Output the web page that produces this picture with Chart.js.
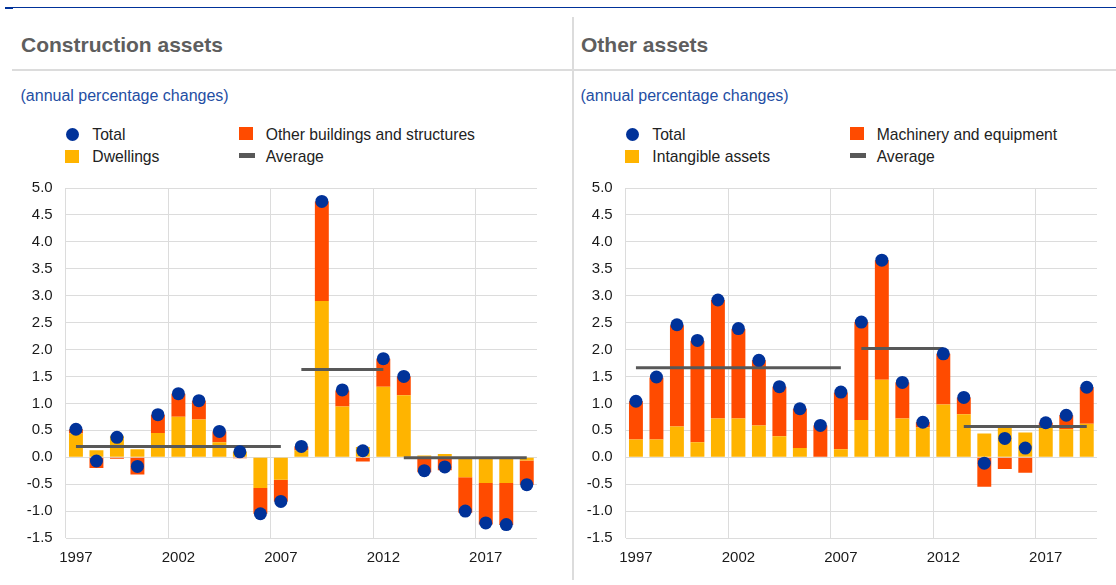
<!DOCTYPE html>
<html>
<head>
<meta charset="utf-8">
<script src="https://cdn.jsdelivr.net/npm/chart.js@4.4.1/dist/chart.umd.min.js"></script>
<style>
body{margin:0;width:1116px;height:585px;background:#fff;position:relative;overflow:hidden;font-family:"Liberation Sans",Arial,sans-serif}
.abs{position:absolute}
.topline{left:5px;right:0;top:7px;height:1px;background:#003299}
.topblock{left:5px;width:8px;top:7px;height:2px;background:#003299}
.hsep{left:12px;right:0;top:69px;height:2px;background:#dcdcdc}
.vsep{left:572px;width:2px;top:17px;bottom:5px;background:#dcdcdc}
.title{font-size:21px;font-weight:bold;color:#5e5e5e;line-height:21px;top:33.5px;white-space:nowrap}
.sub{font-size:16px;color:#1f4ea3;line-height:16px;top:88px;white-space:nowrap}
.leg{font-size:15.7px;line-height:15.5px;color:#222;white-space:nowrap}
.dot{width:13px;height:13px;border-radius:50%;background:#003299}
.sq{width:14px;height:13px}
.avgm{width:16px;height:5px;background:#585858}
canvas{position:absolute}
</style>
</head>
<body>
<div class="abs topline"></div>
<div class="abs topblock"></div>
<div class="abs hsep"></div>
<div class="abs vsep"></div>

<div class="abs title" style="left:21px">Construction assets</div>
<div class="abs sub" style="left:20.5px">(annual percentage changes)</div>
<div class="abs dot" style="left:65.8px;top:128px"></div>
<div class="abs leg" style="left:92.3px;top:127px">Total</div>
<div class="abs sq" style="left:65px;top:150px;background:#ffb400"></div>
<div class="abs leg" style="left:92.3px;top:149.2px">Dwellings</div>
<div class="abs sq" style="left:239px;top:127px;background:#ff4b00"></div>
<div class="abs leg" style="left:265.7px;top:127px">Other buildings and structures</div>
<div class="abs avgm" style="left:239px;top:153px"></div>
<div class="abs leg" style="left:265.7px;top:149.2px">Average</div>

<div class="abs title" style="left:581px">Other assets</div>
<div class="abs sub" style="left:580.5px">(annual percentage changes)</div>
<div class="abs dot" style="left:625.8px;top:128px"></div>
<div class="abs leg" style="left:652.3px;top:127px">Total</div>
<div class="abs sq" style="left:625px;top:150px;background:#ffb400"></div>
<div class="abs leg" style="left:652.3px;top:149.2px">Intangible assets</div>
<div class="abs sq" style="left:850px;top:127px;background:#ff4b00"></div>
<div class="abs leg" style="left:876.7px;top:127px">Machinery and equipment</div>
<div class="abs avgm" style="left:850px;top:153px"></div>
<div class="abs leg" style="left:876.7px;top:149.2px">Average</div>

<canvas id="construction-chart" width="535" height="393" style="left:12px;top:175px;width:535px;height:393px"></canvas>
<canvas id="other-chart" width="535" height="393" style="left:572px;top:175px;width:535px;height:393px"></canvas>

<script>
// годы
const years = ['1997','1998','1999','2000','2001','2002','2003','2004','2005','2006','2007','2008','2009','2010','2011','2012','2013','2014','2015','2016','2017','2018','2019'];
const yTicks = [-1.5,-1.0,-0.5,0.0,0.5,1.0,1.5,2.0,2.5,3.0,3.5,4.0,4.5,5.0];
const avgPeriods = [['1997','2007'],['2008','2012'],['2013','2019']];

// Construction assets
const dwellings = [0.44,0.13,0.40,0.15,0.45,0.75,0.70,0.28,0.10,-0.57,-0.42,0.13,2.90,0.94,0.19,1.31,1.15,0.03,0.06,-0.37,-0.48,-0.48,-0.06];
const otherBuildings = [0.08,-0.20,-0.03,-0.32,0.34,0.43,0.35,0.20,-0.02,-0.48,-0.40,0.07,1.85,0.30,-0.08,0.52,0.35,-0.28,-0.24,-0.66,-0.77,-0.78,-0.45];
const constructionTotal = [0.52,-0.07,0.37,-0.17,0.79,1.18,1.05,0.48,0.10,-1.05,-0.82,0.20,4.75,1.25,0.12,1.83,1.50,-0.25,-0.18,-1.00,-1.22,-1.25,-0.51];
const constructionAvg = [0.20,1.63,-0.01];

// Other assets
const intangible = [0.33,0.33,0.57,0.28,0.72,0.72,0.59,0.39,0.17,0.01,0.15,0.69,1.44,0.72,0.55,0.98,0.80,0.44,0.57,0.46,0.60,0.52,0.62];
const machinery = [0.71,1.15,1.88,1.88,2.20,1.66,1.21,0.92,0.73,0.58,1.05,1.82,2.22,0.67,0.10,0.94,0.31,-0.55,-0.22,-0.29,0.04,0.26,0.68];
const otherTotal = [1.04,1.49,2.46,2.17,2.92,2.39,1.80,1.31,0.90,0.59,1.21,2.51,3.66,1.39,0.65,1.92,1.11,-0.11,0.35,0.17,0.64,0.78,1.30];
const otherAvg = [1.66,2.02,0.57];

const BLUE = '#003299', ORANGE = '#ff4b00', YELLOW = '#ffb400', GREY = '#585858', GRID = '#dcdcdc';

function avgSeries(k, value){
  const from = years.indexOf(avgPeriods[k][0]);
  const to = years.indexOf(avgPeriods[k][1]);
  return years.map((y,i) => (i>=from && i<=to) ? value : null);
}

function makeChart(id, totalData, lowData, lowLabel, highData, highLabel, avgValues){
  const datasets = [{
    type:'line', label:'Total', data:totalData, stack:'total',
    showLine:false, pointRadius:6.5, pointHoverRadius:6.5,
    pointBackgroundColor:BLUE, pointBorderWidth:0, borderColor:BLUE
  }];
  avgValues.forEach((v,k) => {
    datasets.push({
      type:'line', label:'Average', data:avgSeries(k, v), stack:'avg'+k,
      borderColor:GREY, borderWidth:3, pointRadius:0, spanGaps:false, borderCapStyle:'butt'
    });
  });
  datasets.push({type:'bar', label:lowLabel, data:lowData, backgroundColor:YELLOW, stack:'bars', barPercentage:0.68, categoryPercentage:1});
  datasets.push({type:'bar', label:highLabel, data:highData, backgroundColor:ORANGE, stack:'bars', barPercentage:0.68, categoryPercentage:1});

  return new Chart(document.getElementById(id).getContext('2d'), {
    type:'bar',
    data:{labels:years, datasets:datasets},
    options:{
      responsive:false,
      animation:false,
      layout:{padding:{top:13,right:10,left:0,bottom:0}},
      scales:{
        x:{
          stacked:true,
          grid:{
            offset:true, drawTicks:false, lineWidth:1,
            color:(ctx) => (ctx.index % 5 === 0 ? GRID : 'rgba(0,0,0,0)')
          },
          border:{display:false},
          ticks:{
            autoSkip:false, maxRotation:0, padding:11,
            color:'#1a1a1a', font:{family:'"Liberation Sans", Arial', size:15},
            callback:function(value, index){ return index % 5 === 0 ? this.getLabelForValue(value) : ''; }
          },
          afterFit:(scale) => { scale.height = 30; }
        },
        y:{
          stacked:true, min:-1.5, max:5,
          afterBuildTicks:(scale) => { scale.ticks = yTicks.map(v => ({value:v})); },
          grid:{color:GRID, lineWidth:1, drawTicks:false},
          border:{display:false},
          ticks:{
            padding:13, color:'#1a1a1a', font:{family:'"Liberation Sans", Arial', size:15},
            callback:(v) => Number(v).toFixed(1)
          },
          afterFit:(scale) => { scale.width = 53.7; scale.paddingTop = 0; scale.paddingBottom = 0; }
        }
      },
      plugins:{
        legend:{display:false},
        tooltip:{enabled:false}
      }
    }
  });
}

let constructionChart = makeChart('construction-chart', constructionTotal, dwellings, 'Dwellings', otherBuildings, 'Other buildings and structures', constructionAvg);
let otherChart = makeChart('other-chart', otherTotal, intangible, 'Intangible assets', machinery, 'Machinery and equipment', otherAvg);
</script>
</body>
</html>
